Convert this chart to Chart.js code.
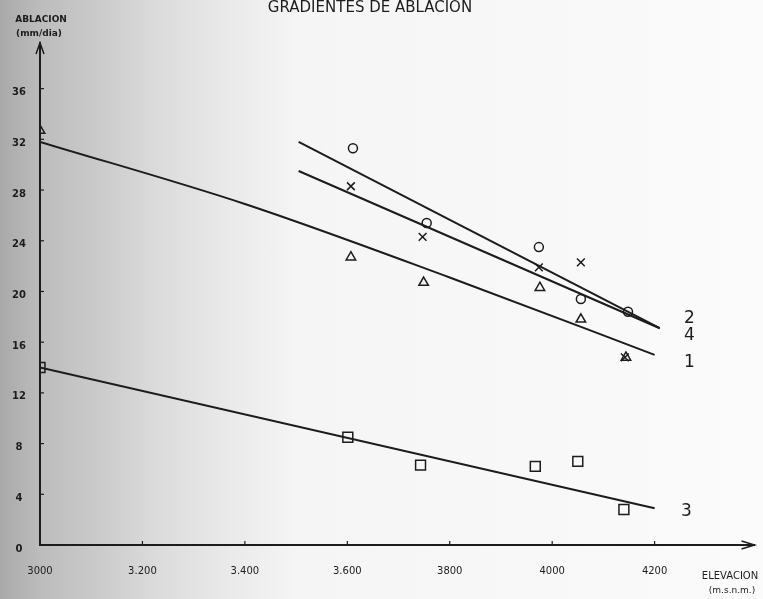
<!DOCTYPE html>
<html>
<head>
<meta charset="utf-8">
<title>Gradientes de ablación</title>
<script src="https://cdn.jsdelivr.net/npm/chart.js@4/dist/chart.umd.min.js"></script>
<style>
  html, body { margin: 0; padding: 0; }
  body {
    width: 763px; height: 599px; overflow: hidden;
    /* scanned page: grey shading on the left edge */
    background: linear-gradient(to right, #a9a9a9 0px, #bcbcbc 40px, #cbcbcb 100px, #dcdcdc 160px, #eaeaea 230px, #f5f5f5 300px, #fbfbfb 763px);
  }
  #wrap { position: relative; width: 763px; height: 599px; }
</style>
</head>
<body>
<div id="wrap"><canvas id="chart" width="763" height="599"></canvas></div>
<script>
// Axis ticks
const XTICKS = [3000, 3200, 3400, 3600, 3800, 4000, 4200];
const XTICK_LABELS = ['3000', '3.200', '3.400', '3.600', '3800', '4000', '4200'];
const YTICKS = [0, 4, 8, 12, 16, 20, 24, 28, 32, 36];

// Measured points (elevation m, ablation)
const CIRCLE_X = [3611, 3755, 3974, 4056, 4148];
const CIRCLE_Y = [31.3, 25.4, 23.5, 19.4, 18.4];
const CROSS_X = [3607, 3747, 3974, 4056, 4142];
const CROSS_Y = [28.3, 24.3, 21.9, 22.3, 14.8];
const TRI_X = [3000, 3607, 3749, 3976, 4056, 4144];
const TRI_Y = [32.7, 22.7, 20.7, 20.3, 17.8, 14.8];
const SQ_X = [3000, 3601, 3743, 3967, 4050, 4140];
const SQ_Y = [14.0, 8.5, 6.3, 6.2, 6.6, 2.8];

// Gradient lines
const LINE1_X = [3000, 3400, 3800, 4200];
const LINE1_Y = [31.8, 26.9, 21.1, 15.0];
const LINE2_X = [3505, 4210];
const LINE2_Y = [31.8, 17.1];
const LINE3_X = [3000, 4200];
const LINE3_Y = [14.0, 2.9];
const LINE4_X = [3505, 4210];
const LINE4_Y = [29.5, 17.1];

// Line numbers at the right end
const LINE_NAMES = ['2', '4', '1', '3'];
const NAME_X = [4268, 4268, 4268, 4262];
const NAME_Y = [17.9, 16.5, 14.4, 2.6];

const INK = '#1c1c1c';
const FONT = "'DejaVu Sans', sans-serif";

const pts = (xs, ys) => xs.map((x, i) => ({ x: x, y: ys[i] }));

const lineSet = (label, xs, ys, smooth) => ({
  type: 'line',
  label: label,
  data: pts(xs, ys),
  borderColor: INK,
  borderWidth: 2,
  pointRadius: 0,
  fill: false,
  tension: smooth ? 0.4 : 0,
  cubicInterpolationMode: smooth ? 'monotone' : 'default'
});

const markSet = (label, xs, ys, style, r) => ({
  type: 'scatter',
  label: label,
  data: pts(xs, ys),
  showLine: false,
  pointStyle: style,
  pointRadius: r,
  pointBorderColor: INK,
  pointBackgroundColor: 'rgba(0,0,0,0)',
  pointBorderWidth: 1.5
});

// Axis arrows, inner tick marks, titles and line numbers
const decor = {
  id: 'decor',
  afterDraw(chart) {
    const ctx = chart.ctx;
    const a = chart.chartArea;
    const xs = chart.scales.x;
    const ys = chart.scales.y;
    ctx.save();
    ctx.strokeStyle = INK;
    ctx.fillStyle = INK;
    ctx.lineWidth = 1.5;

    // y axis arrow
    ctx.beginPath();
    ctx.moveTo(a.left - 4, a.top + 11);
    ctx.lineTo(a.left, a.top);
    ctx.lineTo(a.left + 4, a.top + 11);
    ctx.stroke();
    // x axis arrow
    ctx.beginPath();
    ctx.moveTo(a.right - 13, a.bottom - 4);
    ctx.lineTo(a.right, a.bottom);
    ctx.lineTo(a.right - 13, a.bottom + 4);
    ctx.stroke();

    // tick marks inside the axes
    ctx.lineWidth = 1.2;
    YTICKS.forEach(v => {
      if (v === 0) return;
      const py = ys.getPixelForValue(v);
      ctx.beginPath();
      ctx.moveTo(a.left, py);
      ctx.lineTo(a.left + 4, py);
      ctx.stroke();
    });
    XTICKS.forEach(v => {
      if (v === XTICKS[0]) return;
      const px = xs.getPixelForValue(v);
      ctx.beginPath();
      ctx.moveTo(px, a.bottom);
      ctx.lineTo(px, a.bottom - 4);
      ctx.stroke();
    });

    // titles
    ctx.textBaseline = 'middle';
    ctx.textAlign = 'center';
    ctx.font = '15px ' + FONT;
    ctx.fillText('GRADIENTES DE ABLACION', 370, 8);
    ctx.font = 'bold 9px ' + FONT;
    ctx.fillText('ABLACION', 41, 20);
    ctx.fillText('(mm/dia)', 39, 34);
    ctx.font = '10px ' + FONT;
    ctx.fillText('ELEVACION', 730, 576);
    ctx.font = '9px ' + FONT;
    ctx.fillText('(m.s.n.m.)', 732, 591);

    // line numbers
    ctx.font = '17px ' + FONT;
    LINE_NAMES.forEach((t, i) => {
      ctx.fillText(t, xs.getPixelForValue(NAME_X[i]), ys.getPixelForValue(NAME_Y[i]));
    });
    ctx.restore();
  }
};

new Chart(document.getElementById('chart'), {
  type: 'scatter',
  data: {
    datasets: [
      lineSet('1', LINE1_X, LINE1_Y, true),
      lineSet('2', LINE2_X, LINE2_Y, false),
      lineSet('3', LINE3_X, LINE3_Y, false),
      lineSet('4', LINE4_X, LINE4_Y, false),
      markSet('o', CIRCLE_X, CIRCLE_Y, 'circle', 4.5),
      markSet('x', CROSS_X, CROSS_Y, 'crossRot', 5.5),
      markSet('triangle', TRI_X, TRI_Y, 'triangle', 5.5),
      markSet('square', SQ_X, SQ_Y, 'rect', 7)
    ]
  },
  options: {
    responsive: false,
    animation: false,
    events: [],
    layout: { padding: { top: 43, right: 6, left: 0, bottom: 0 } },
    plugins: {
      legend: { display: false },
      tooltip: { enabled: false }
    },
    scales: {
      x: {
        type: 'linear',
        min: 3000,
        max: 4395,
        afterBuildTicks: s => { s.ticks = XTICKS.map(v => ({ value: v })); },
        afterFit: s => { s.height = 54; },
        grid: { display: false, drawTicks: false },
        border: { display: true, color: INK, width: 2 },
        ticks: {
          color: INK,
          padding: 20,
          maxRotation: 0,
          autoSkip: false,
          font: { family: FONT, size: 10 },
          callback: v => XTICK_LABELS[XTICKS.indexOf(v)]
        }
      },
      y: {
        min: 0,
        max: 39.6,
        afterBuildTicks: s => { s.ticks = YTICKS.map(v => ({ value: v })); },
        afterFit: s => { s.width = 40; },
        grid: { display: false, drawTicks: false },
        border: { display: true, color: INK, width: 2 },
        ticks: {
          color: INK,
          padding: 14,
          crossAlign: 'center',
          labelOffset: 4,
          autoSkip: false,
          font: { family: FONT, size: 10, weight: 'bold' }
        }
      }
    }
  },
  plugins: [decor]
});
</script>
</body>
</html>
